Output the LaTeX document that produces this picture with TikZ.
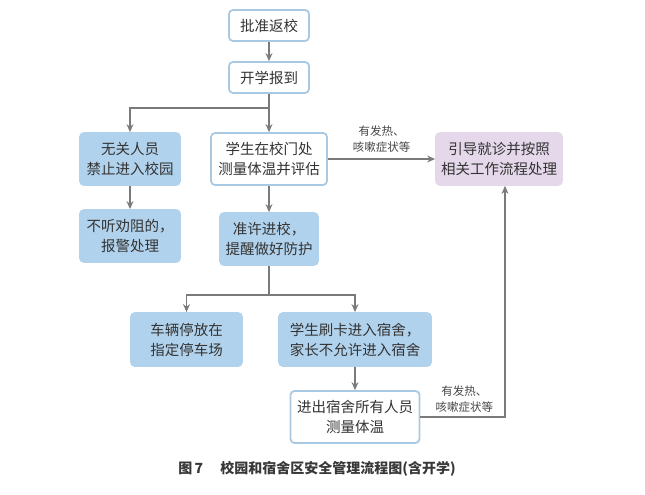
\documentclass[tikz,border=0pt]{standalone}
\usepackage{fontspec}
\setmainfont{Noto Sans CJK SC}
\usepackage{xcolor}
\usepackage{tikz}
\usetikzlibrary{calc}
\usetikzlibrary{arrows.meta}

\definecolor{boxline}{HTML}{A9C9E2}
\definecolor{boxfill}{HTML}{B1D2EC}
\definecolor{guidefill}{HTML}{E4D8EA}
\definecolor{arrowgray}{HTML}{7A7A7A}
\definecolor{txtgray}{HTML}{333333}

\tikzset{
  plainbox/.style={draw=boxline,line width=1.8pt,fill=white,rounded corners=4pt,
    align=center,text=txtgray,font=\fontsize{14.5}{20}\selectfont,inner sep=0pt},
  bluebox/.style={plainbox,draw=boxfill,fill=boxfill},
  purplebox/.style={plainbox,draw=guidefill,fill=guidefill},
  flow/.style={draw=arrowgray,line width=1.1pt,-{Stealth[length=8pt,width=7pt]}},
  link/.style={draw=arrowgray,line width=1.1pt},
  note/.style={align=center,text=txtgray!90,font=\fontsize{11.5}{15.5}\selectfont}
}

\begin{document}
\begin{tikzpicture}[x=1pt,y=-1pt]
\useasboundingbox (0,0) rectangle (645,495);

% Boxes
\node[plainbox,minimum width=80pt,minimum height=31pt] (approve) at (269,25.5) {批准返校};
\node[plainbox,minimum width=80pt,minimum height=31pt] (enrol) at (269,77.5) {开学报到};
\node[bluebox,minimum width=100pt,minimum height=52pt] (deny) at (130,159) {无关人员\\禁止进入校园};
\node[plainbox,minimum width=116pt,minimum height=52pt] (gate) at (269,159) {学生在校门处\\测量体温并评估};
\node[bluebox,minimum width=100pt,minimum height=52pt] (police) at (130,236) {不听劝阻的，\\报警处理};
\node[bluebox,minimum width=98pt,minimum height=52pt] (admit) at (269,239) {准许进校，\\提醒做好防护};
\node[purplebox,minimum width=126pt,minimum height=52pt] (guide) at (499,159) {引导就诊并按照\\相关工作流程处理};
\node[bluebox,minimum width=111pt,minimum height=53pt] (park) at (186.5,339.5) {车辆停放在\\指定停车场};
\node[bluebox,minimum width=152pt,minimum height=53pt] (dorm) at (355,339.5) {学生刷卡进入宿舍，\\家长不允许进入宿舍};
\node[plainbox,minimum width=129pt,minimum height=52pt] (dormtemp) at (355,417) {进出宿舍所有人员\\测量体温};

% Branch points
\coordinate (split1) at (269,108);
\coordinate (split2) at (269,295);

% Connectors
\draw[flow] (approve) -- (enrol);
\draw[link] (enrol) -- (split1);
\draw[flow] (split1) -| (deny);
\draw[flow] (split1) -- (gate);
\draw[flow] (deny) -- (police);
\draw[flow] (gate) -- (admit);
\draw[flow] (gate) -- (guide) node[note,midway,above=3pt] {有发热、\\咳嗽症状等};
\draw[link] (admit) -- (split2);
\draw[flow] (split2) -| (park);
\draw[flow] (split2) -| (dorm);
\draw[flow] (dorm) -- (dormtemp);
\draw[flow] (dormtemp.east) -| ($(guide.south)+(6,0)$) node[note,pos=0.26,above=1pt] {有发热、\\咳嗽症状等};

% Caption
\node[font=\fontsize{14}{16}\selectfont\bfseries,text=black!78] (caption) at (317,469) {图\,7\quad\ 校园和宿舍区安全管理流程图(含开学)};
\end{tikzpicture}
\end{document}
